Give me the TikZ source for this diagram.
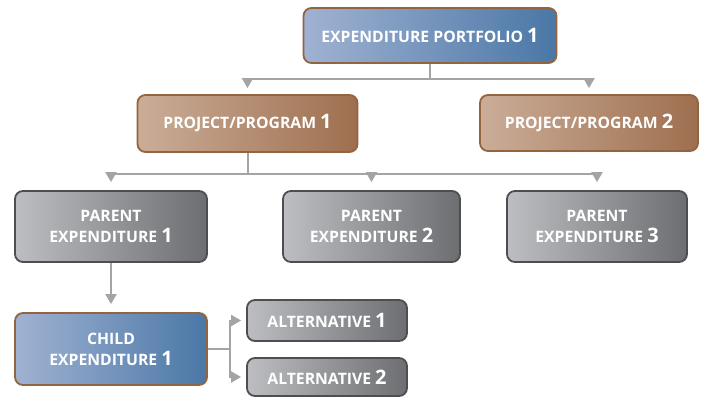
\documentclass[tikz,border=0pt]{standalone}
\usepackage{fontspec}
\setmainfont{Open Sans}
\usetikzlibrary{arrows.meta}
\definecolor{bluelight}{HTML}{A0B2D2}
\definecolor{bluedark}{HTML}{4A77A6}
\definecolor{brownedge}{HTML}{94643F}
\definecolor{tanlight}{HTML}{CBAD98}
\definecolor{tandark}{HTML}{9E6F4F}
\definecolor{greylight}{HTML}{BDBEC1}
\definecolor{greydark}{HTML}{6D6E71}
\definecolor{greyedge}{HTML}{4E4E50}
\definecolor{linegrey}{HTML}{A3A4A6}
\newcommand{\bignum}[1]{{\fontsize{20}{20}\selectfont #1}}
\begin{document}
\begin{tikzpicture}[x=1bp,y=1bp,
  box/.style={rounded corners=8bp, line width=1.8bp, text=white, align=center,
    inner sep=0pt, font=\bfseries\fontsize{15.8}{21}\selectfont},
  bluebox/.style={box, draw=brownedge, left color=bluelight, right color=bluedark},
  tanbox/.style={box, draw=brownedge, left color=tanlight, right color=tandark},
  greybox/.style={box, draw=greyedge, left color=greylight, right color=greydark},
  link/.style={draw=linegrey, line width=2bp},
  arr/.style={link, -{Triangle[length=10bp,width=11bp]}},
]
\useasboundingbox (0,0) rectangle (702,-398);
% boxes
\node[bluebox, minimum width=253bp, minimum height=55bp] (port) at (430,-35.5) {EXPENDITURE PORTFOLIO \bignum{1}};
\node[tanbox, minimum width=220bp, minimum height=57bp] (proj1) at (247.5,-123.5) {PROJECT/PROGRAM \bignum{1}};
\node[tanbox, minimum width=218bp, minimum height=56bp] (proj2) at (589,-123) {PROJECT/PROGRAM \bignum{2}};
\node[greybox, minimum width=192bp, minimum height=71bp] (par1) at (111,-226.5) {PARENT\\EXPENDITURE \bignum{1}};
\node[greybox, minimum width=177bp, minimum height=71bp] (par2) at (371.5,-226.5) {PARENT\\EXPENDITURE \bignum{2}};
\node[greybox, minimum width=180bp, minimum height=71bp] (par3) at (597,-226.5) {PARENT\\EXPENDITURE \bignum{3}};
\node[bluebox, minimum width=192bp, minimum height=72bp] (child) at (111,-349) {CHILD\\EXPENDITURE \bignum{1}};
\node[greybox, minimum width=160bp, minimum height=41bp] (alt1) at (327,-320.5) {ALTERNATIVE \bignum{1}};
\node[greybox, minimum width=160bp, minimum height=38bp] (alt2) at (327,-377) {ALTERNATIVE \bignum{2}};
% connectors
\draw[link] (port.south) -- (port.south |- 0,-79) coordinate (hubA);
\draw[arr, shorten >=6bp] (hubA) -| (proj1);
\draw[arr, shorten >=6bp] (hubA) -| (proj2);
\draw[link] (proj1.south) -- (proj1.south |- 0,-174) coordinate (hubB);
\draw[arr, shorten >=8bp] (hubB) -| (par1);
\draw[arr, shorten >=8bp] (hubB) -| (par2);
\draw[arr, shorten >=8bp] (hubB) -| (par3);
\draw[arr, shorten >=8bp] (par1) -- (child);
\draw[link] (child.east) -- ++(22,0) coordinate (hubC);
\draw[arr, shorten >=5bp] (hubC) |- (alt1);
\draw[arr, shorten >=5bp] (hubC) |- (alt2);
\end{tikzpicture}
\end{document}
